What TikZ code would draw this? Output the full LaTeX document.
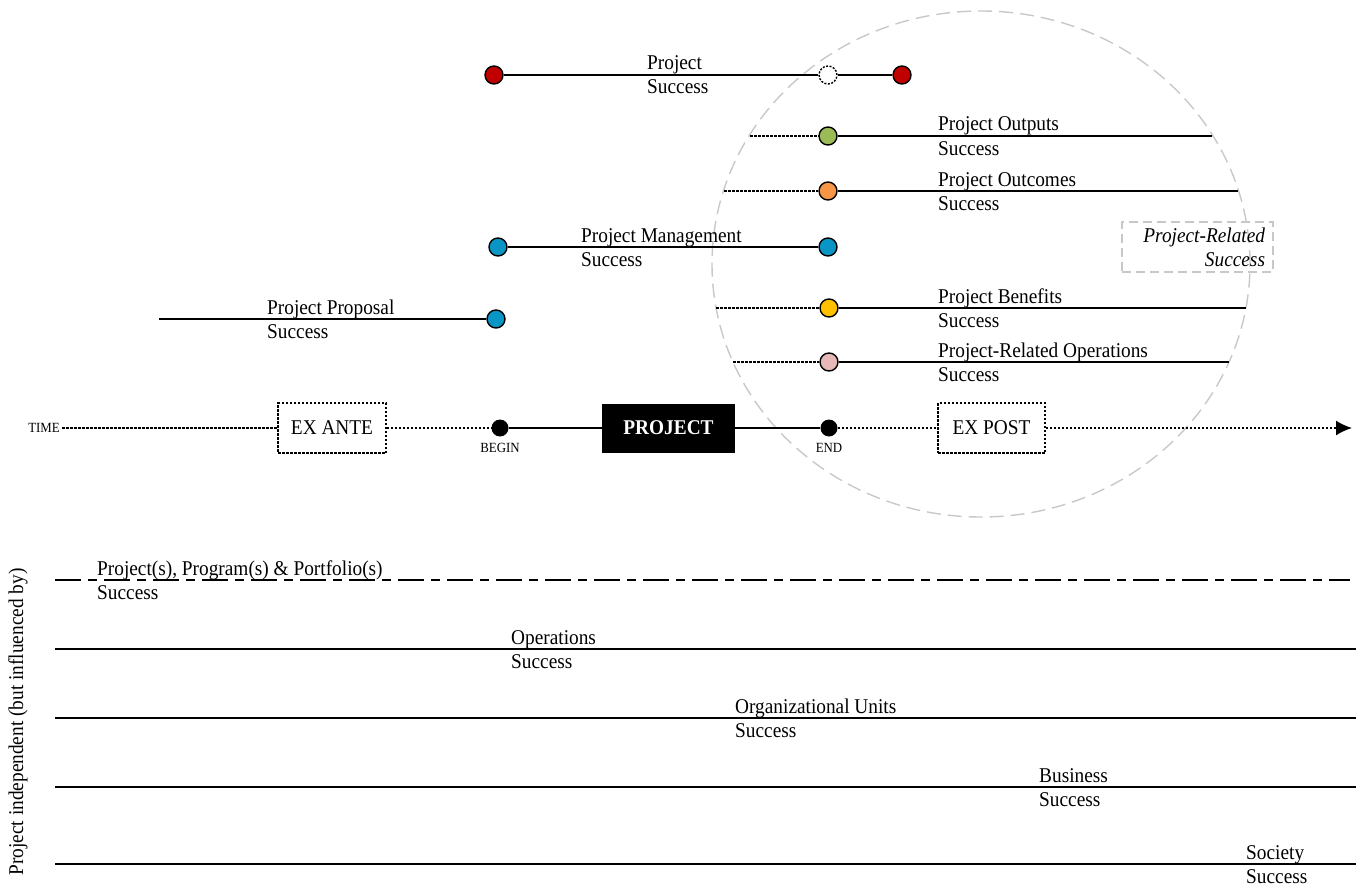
\documentclass[tikz,border=0pt]{standalone}
\usepackage{fontspec}
\setmainfont{Liberation Serif}[FakeStretch=0.92]
\usetikzlibrary{arrows.meta}

\definecolor{dotred}{HTML}{C00000}
\definecolor{dotgreen}{HTML}{9BBB59}
\definecolor{dotorange}{HTML}{F79646}
\definecolor{dotblue}{HTML}{0A96C4}
\definecolor{dotyellow}{HTML}{FFC000}
\definecolor{dotpink}{HTML}{E6B9B8}
\definecolor{circgray}{HTML}{C8C8C8}

\tikzset{
    dot/.style = {circle, draw = black, line width = 1.4pt, fill = #1, minimum size = 18pt, inner sep = 0pt},
    blackdot/.style = {circle, fill = black, minimum size = 17pt, inner sep = 0pt},
    timebox/.style = {draw, line width = 1.5pt, dash pattern = on 2.5pt off 1.5pt, minimum height = 50pt, font = \fontsize{21}{24}\selectfont},
    lbl/.style = {anchor = base west, inner sep = 0pt, font = \fontsize{21}{24}\selectfont},
    small/.style = {inner sep = 2pt, font = \fontsize{14}{16}\selectfont},
    ln/.style = {line width = 1.8pt},
    dots/.style = {line width = 1.6pt, dash pattern = on 2.5pt off 1.5pt}
}

\begin{document}
\begin{tikzpicture}[x = 1pt, y = -1pt]
        \useasboundingbox (0, 0) rectangle (1356, 888);
        \draw [circgray, line width = 1.4pt, dash pattern = on 14pt off 7pt] (981, 264) ellipse [x radius = 269pt, y radius = 253pt];
        % project success
        \node [dot = dotred] (ps0) at (494, 75) {};
        \node [dot = white, dash pattern = on 2pt off 1.5pt] (psm) at (828, 75) {};
        \node [dot = dotred] (ps1) at (902, 75) {};
        \draw [ln] (ps0) -- (psm) -- (ps1);
        \node [lbl] (ps-a) at (647, 70) {Project};
        \node [lbl] (ps-b) at (647, 94) {Success};
        % outputs
        \coordinate (out0) at (750, 136);
        \coordinate (out1) at (1212, 136);
        \node [dot = dotgreen] (out) at (828, 136) {};
        \draw [dots] (out0) -- (out);
        \draw [ln] (out) -- (out1);
        \node [lbl] (out-a) at (938, 131) {Project Outputs};
        \node [lbl] (out-b) at (938, 155) {Success};
        % outcomes
        \coordinate (oc0) at (724, 191);
        \coordinate (oc1) at (1238, 191);
        \node [dot = dotorange] (oc) at (828, 191) {};
        \draw [dots] (oc0) -- (oc);
        \draw [ln] (oc) -- (oc1);
        \node [lbl] (oc-a) at (938, 186) {Project Outcomes};
        \node [lbl] (oc-b) at (938, 210) {Success};
        % management
        \node [dot = dotblue] (pm0) at (498, 247) {};
        \node [dot = dotblue] (pm1) at (828, 247) {};
        \draw [ln] (pm0) -- (pm1);
        \node [lbl] (pm-a) at (581, 242) {Project Management};
        \node [lbl] (pm-b) at (581, 266) {Success};
        % proposal
        \coordinate (pp0) at (159, 319);
        \node [dot = dotblue] (pp) at (496, 319) {};
        \draw [ln] (pp0) -- (pp);
        \node [lbl] (pp-a) at (267, 314) {Project Proposal};
        \node [lbl] (pp-b) at (267, 338) {Success};
        % benefits
        \coordinate (bn0) at (716, 308);
        \coordinate (bn1) at (1246, 308);
        \node [dot = dotyellow] (bn) at (829, 308) {};
        \draw [dots] (bn0) -- (bn);
        \draw [ln] (bn) -- (bn1);
        \node [lbl] (bn-a) at (938, 303) {Project Benefits};
        \node [lbl] (bn-b) at (938, 327) {Success};
        % related operations
        \coordinate (ro0) at (733, 362);
        \coordinate (ro1) at (1229, 362);
        \node [dot = dotpink] (ro) at (829, 362) {};
        \draw [dots] (ro0) -- (ro);
        \draw [ln] (ro) -- (ro1);
        \node [lbl] (ro-a) at (938, 357) {Project-Related Operations};
        \node [lbl] (ro-b) at (938, 381) {Success};
        \node [draw = circgray, line width = 1.4pt, dash pattern = on 9pt off 5pt, text width = 135pt, align = right,
            inner xsep = 8pt, inner ysep = 1pt, minimum height = 50pt, font = \fontsize{21}{24}\selectfont\itshape]
            (prs) at (1197.5, 247) {Project-Related\\Success};
        % time line
        \node [small, anchor = east] (time) at (62, 428) {TIME};
        \node [timebox, minimum width = 108pt] (ante) at (332, 428) {EX ANTE};
        \node [blackdot] (begin) at (500, 428) {};
        \node [small] (begin-l) at (500, 448) {BEGIN};
        \node [fill = black, text = white, minimum width = 133pt, minimum height = 49pt,
            font = \fontsize{21}{24}\selectfont\bfseries] (proj) at (668.5, 428) {PROJECT};
        \node [blackdot] (end) at (829, 428) {};
        \node [small] (end-l) at (829, 448) {END};
        \node [timebox, minimum width = 107pt] (post) at (991.5, 428) {EX POST};
        \coordinate (tend) at (1352, 428);
        \draw [dots] (time) -- (ante);
        \draw [dots] (ante) -- (begin);
        \draw [ln] (begin) -- (proj) -- (end);
        \draw [dots] (end) -- (post);
        \draw [dots, -{Latex[length = 16pt, width = 15pt]}] (post) -- (tend);
        % project independent
        \coordinate (ppp0) at (55, 580);
        \coordinate (ppp1) at (1350, 580);
        \draw [line width = 1.5pt, dash pattern = on 26pt off 7pt on 9pt off 7pt] (ppp0) -- (ppp1);
        \node [lbl] (ppp-a) at (97, 575) {Project(s), Program(s) \& Portfolio(s)};
        \node [lbl] (ppp-b) at (97, 599) {Success};
        \coordinate (op0) at (55, 649);
        \coordinate (op1) at (1356, 649);
        \draw [ln] (op0) -- (op1);
        \node [lbl] (op-a) at (511, 644) {Operations};
        \node [lbl] (op-b) at (511, 668) {Success};
        \coordinate (ou0) at (55, 718);
        \coordinate (ou1) at (1356, 718);
        \draw [ln] (ou0) -- (ou1);
        \node [lbl] (ou-a) at (735, 713) {Organizational Units};
        \node [lbl] (ou-b) at (735, 737) {Success};
        \coordinate (bu0) at (55, 787);
        \coordinate (bu1) at (1356, 787);
        \draw [ln] (bu0) -- (bu1);
        \node [lbl] (bu-a) at (1039, 782) {Business};
        \node [lbl] (bu-b) at (1039, 806) {Success};
        \coordinate (so0) at (55, 864);
        \coordinate (so1) at (1356, 864);
        \draw [ln] (so0) -- (so1);
        \node [lbl] (so-a) at (1246, 859) {Society};
        \node [lbl] (so-b) at (1246, 883) {Success};
        \node [rotate = 90, inner sep = 0pt, font = \fontsize{21}{24}\selectfont] (indep) at (18, 722) {Project independent (but influenced by)};
    \end{tikzpicture}
\end{document}
